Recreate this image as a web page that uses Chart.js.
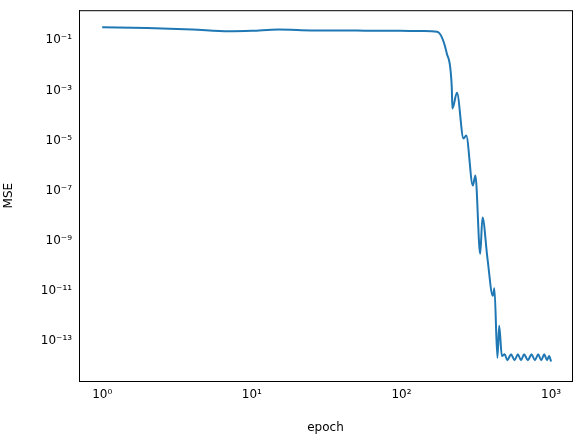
<!DOCTYPE html>
<html>
<head>
<meta charset="utf-8">
<script src="https://cdn.jsdelivr.net/npm/chart.js@4"></script>
<style>
  body { margin: 0; background: #fff; }
</style>
</head>
<body>
<canvas id="grafico" width="584" height="437"></canvas>
<script>
const epochs = [1, 2, 4, 7, 10, 15, 25, 50, 98, 140, 173, 201, 217, 219, 235, 260, 271, 300, 312, 336, 348, 376, 408, 418, 438, 450, 469,
  490, 510, 540, 570, 600, 630, 660, 700, 740, 780, 820, 860, 900, 940, 970, 1000];
const mse = [0.33, 0.31, 0.27, 0.23, 0.24, 0.27, 0.25, 0.245, 0.24, 0.235, 0.22, 3e-2, 1.3e-3, 1.9e-4, 8e-4, 1.2e-5, 1.6e-5, 1.6e-7, 4e-7, 3e-10, 8.5e-9, 1.9e-10, 6.3e-12, 1.25e-11, 2.1e-14, 4e-13, 2.5e-14,
  2.9e-14, 1.7e-14, 2.9e-14, 1.7e-14, 2.9e-14, 1.7e-14, 2.9e-14, 1.7e-14, 2.9e-14, 1.7e-14, 2.9e-14, 1.7e-14, 2.9e-14, 1.7e-14, 2.5e-14, 1.5e-14];
const xTicks = [1, 10, 100, 1000];
const yTicks = [1e-13, 1e-11, 1e-9, 1e-7, 1e-5, 1e-3, 1e-1];

const sup = { '-': '⁻', '0': '⁰', '1': '¹', '2': '²', '3': '³', '4': '⁴', '5': '⁵', '6': '⁶', '7': '⁷', '8': '⁸', '9': '⁹' };
function potencia(v) {
  const e = Math.round(Math.log10(v)).toString();
  return '10' + e.split('').map(c => sup[c]).join('');
}

const fonte = { family: 'DejaVu Sans', size: 12 };

new Chart(document.getElementById('grafico'), {
  type: 'line',
  data: { datasets: [{ data: epochs.map((e, i) => ({ x: e, y: mse[i] })), borderColor: '#1f77b4', borderWidth: 2, pointRadius: 0, tension: 0.3, cubicInterpolationMode: 'monotone' }] },
  options: {
    responsive: false, animation: false,
    layout: { padding: { top: 10, right: 12, left: 0, bottom: 0 } },
    plugins: { legend: { display: false }, tooltip: { enabled: false } },
    scales: {
      x: {
        type: 'logarithmic', min: 0.71, max: 1380,
        afterBuildTicks: ax => { ax.ticks = xTicks.map(v => ({ value: v })); },
        afterFit: ax => { ax.height = 56; },
        ticks: { callback: v => potencia(v), color: '#000', font: fonte, maxRotation: 0, autoSkip: false },
        grid: { display: false, drawTicks: true, tickLength: 4, tickColor: '#000' },
        border: { color: '#000', width: 1 },
        title: { display: true, text: 'epoch', color: '#000', font: fonte, padding: 2 }
      },
      y: {
        type: 'logarithmic', min: 2.5e-15, max: 1.6,
        afterBuildTicks: ax => { ax.ticks = yTicks.map(v => ({ value: v })); },
        afterFit: ax => { ax.width = 79; },
        ticks: { callback: v => potencia(v), color: '#000', font: fonte, autoSkip: false },
        grid: { display: false, drawTicks: true, tickLength: 4, tickColor: '#000' },
        border: { color: '#000', width: 1 },
        title: { display: true, text: 'MSE', color: '#000', font: fonte, padding: 2 }
      }
    }
  },
  plugins: [{
    id: 'moldura',
    afterDraw(c) {
      const { ctx, chartArea: a } = c;
      ctx.save(); ctx.strokeStyle = '#000'; ctx.lineWidth = 1;
      ctx.strokeRect(a.left + 0.5, a.top + 0.5, a.right - a.left, a.bottom - a.top);
      ctx.restore();
    }
  }]
});
</script>
</body>
</html>
